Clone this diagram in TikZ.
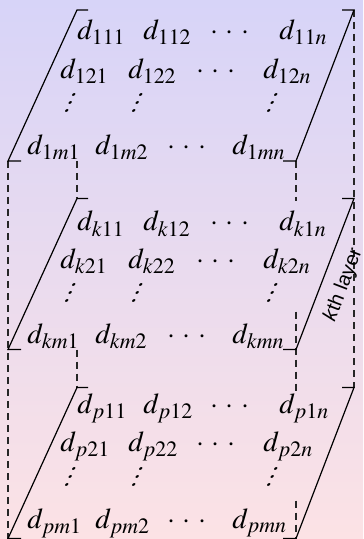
\documentclass[tikz,border=0pt]{standalone}
\usepackage{mathptmx}
\usepackage[no-math]{fontspec}
\newfontfamily\labfont{Liberation Sans}
\definecolor{bgtop}{RGB}{215,212,248}
\definecolor{bgbot}{RGB}{252,226,229}
\newcommand\spcdots{{\cdot}\mkern5mu{\cdot}\mkern5mu{\cdot}}
\newcommand\slvdots{\vbox{\baselineskip4pt\lineskiplimit0pt\hbox{$.$}\hbox{$.$}\hbox{$.$}}}
\tikzset{
  entry/.style={anchor=base west, inner sep=0pt, font=\fontsize{14.4}{17}\selectfont},
  dotsent/.style={anchor=base, inner sep=0pt, font=\fontsize{14.4}{17}\selectfont},
  vdotsent/.style={anchor=base, inner sep=0pt, xslant=0.45, transform shape, font=\fontsize{14.4}{17}\selectfont},
  bracket/.style={line width=0.6pt, black},
  boxedge/.style={line width=0.55pt, dash pattern=on 3.5pt off 2.5pt, black!85},
  lab/.style={font=\labfont\fontsize{10}{12}\selectfont, rotate=69, inner sep=0pt}
}
\begin{document}
\begin{tikzpicture}[x=0.5pt,y=0.5pt]
\shade[top color=bgtop, bottom color=bgbot] (0,0) rectangle (363,-539);
\useasboundingbox (0,0) rectangle (363,-539);
% corner coordinates of the three layers
\foreach \n/\off in {A/0, B/188.5, C/377.5} {
  \coordinate (\n-tl)  at (77,-10-\off);
  \coordinate (\n-tlt) at (88,-10-\off);
  \coordinate (\n-bl)  at (8,-161-\off);
  \coordinate (\n-blt) at (21,-161-\off);
  \coordinate (\n-tr)  at (354,-10-\off);
  \coordinate (\n-trt) at (342,-10-\off);
  \coordinate (\n-br)  at (296,-161-\off);
  \coordinate (\n-brt) at (283,-161-\off);
  \coordinate (\n-blb) at (77,-161-\off);
  \coordinate (\n-fa)  at (296,-13-\off);
  \coordinate (\n-fb)  at (296,-123-\off);
}
% hidden / box edges
\draw[boxedge] (A-bl) -- (C-bl);
\draw[boxedge] (A-blb) -- (B-tl);
\draw[boxedge] (B-blb) -- (C-tl);
\draw[boxedge] (A-br) -- (B-fa);
\draw[boxedge] (B-fb) -- (C-fa);
\draw[boxedge] (C-fb) -- (C-br);
\draw[boxedge] (A-tr) -- (C-tr);
% brackets and entries: name / index / first baseline / row spacing
\foreach \n/\L/\ra/\rs in {A/1/40/38.3, B/k/231/37.5, C/p/413.5/38.3} {
  \draw[bracket] (\n-blt) -- (\n-bl) -- (\n-tl) -- (\n-tlt);
  \draw[bracket] (\n-brt) -- (\n-br) -- (\n-tr) -- (\n-trt);
  % row 1
  \node[entry]   (\n-r1c1) at (77,-\ra)  {$d_{\L11}$};
  \node[entry]   (\n-r1c2) at (143,-\ra) {$d_{\L12}$};
  \node[dotsent] (\n-r1c3) at (230,-\ra) {$\spcdots$};
  \node[entry]   (\n-r1c4) at (279,-\ra) {$d_{\L1n}$};
  % row 2
  \node[entry]   (\n-r2c1) at (60,-\ra-\rs)  {$d_{\L21}$};
  \node[entry]   (\n-r2c2) at (128,-\ra-\rs) {$d_{\L22}$};
  \node[dotsent] (\n-r2c3) at (216,-\ra-\rs) {$\spcdots$};
  \node[entry]   (\n-r2c4) at (263,-\ra-\rs) {$d_{\L2n}$};
  % row 3
  \node[vdotsent] (\n-r3c1) at (66,-\ra-2*\rs+4)  {\slvdots};
  \node[vdotsent] (\n-r3c2) at (133,-\ra-2*\rs+4) {\slvdots};
  \node[vdotsent] (\n-r3c4) at (268,-\ra-2*\rs+4) {\slvdots};
  % row 4
  \node[entry]   (\n-r4c1) at (27,-\ra-3*\rs)  {$d_{\L m1}$};
  \node[entry]   (\n-r4c2) at (95,-\ra-3*\rs)  {$d_{\L m2}$};
  \node[dotsent] (\n-r4c3) at (187,-\ra-3*\rs) {$\spcdots$};
  \node[entry]   (\n-r4c4) at (232,-\ra-3*\rs) {$d_{\L mn}$};
}
\node[lab] (klabel) at (343.5,-285) {\textit{k}th layer};
\end{tikzpicture}
\end{document}
